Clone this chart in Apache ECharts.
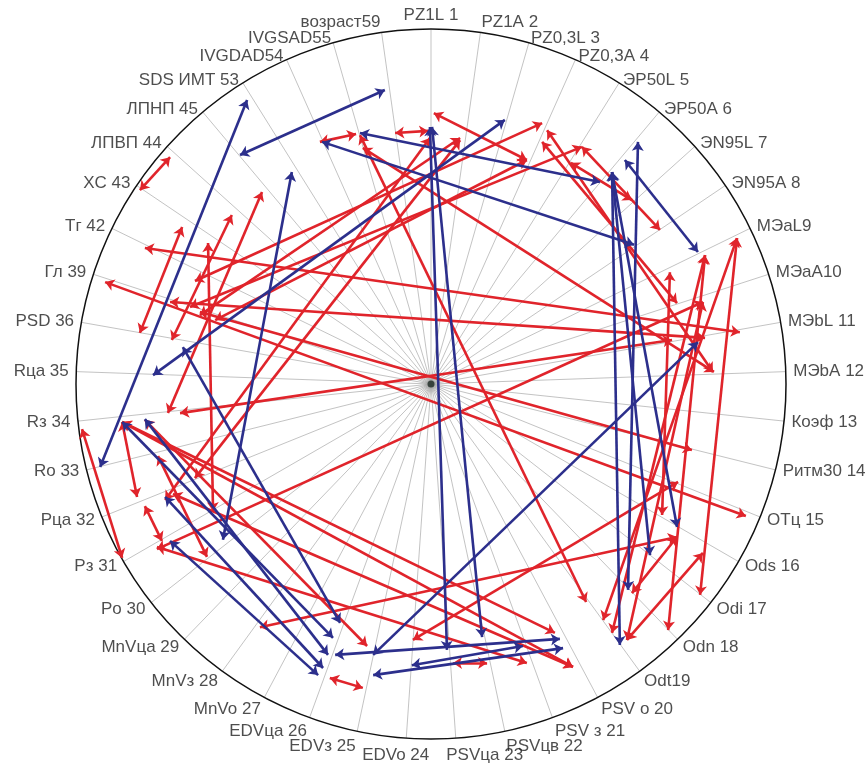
<!DOCTYPE html>
<html><head><meta charset="utf-8">
<script src="https://cdn.jsdelivr.net/npm/echarts@6/dist/echarts.min.js"></script>
<style>html,body{margin:0;padding:0;background:#fff}#c{width:867px;height:769px}</style>
</head><body><div id="c"></div>
<script>
const categories = ['PZ1L 1','PZ1A 2','PZ0,3L 3','PZ0,3A 4','ЭP50L 5','ЭP50A 6','ЭN95L 7','ЭN95A 8','MЭaL9','MЭaA10','MЭbL 11','MЭbA 12','Коэф 13','Ритм30 14','OTц 15','Ods 16','Odi 17','Odn 18','Odt19','PSV o 20','PSV з 21','PSVцв 22','PSVца 23','EDVo 24','EDVз 25','EDVца 26','MnVo 27','MnVз 28','MnVца 29','Po 30','Pз 31','Pца 32','Ro 33','Rз 34','Rца 35','PSD 36','Гл 39','Tг 42','XC 43','ЛПВП 44','ЛПНП 45','SDS ИМТ 53','IVGDAD54','IVGSAD55','возраст59'];

// each link: [x1, y1, x2, y2] in percent of circle radius (centre = 0,0)
const redLinks = [
 [-82.0,54.6,-73.5,63.9],
 [-31.3,68.2,-21.1,70.4],
 [-10.1,70.7,-0.8,71.3],
 [-20.0,70.1,43.7,-61.4],
 [-80.6,38.3,87.0,14.6],
 [-91.8,28.7,88.7,-37.2],
 [-65.1,20.3,73.5,-18.6],
 [-73.5,23.1,77.2,13.0],
 [-70.1,44.2,-82.0,14.4],
 [-62.8,39.7,-61.4,-35.8],
 [-56.1,47.6,-73.0,12.4],
 [-47.6,54.1,-74.1,-8.2],
 [-98.3,-12.7,-87.0,-49.0],
 [-87.0,-10.7,-82.8,-31.8],
 [-80.6,-34.4,-75.8,-44.2],
 [-76.9,-20.3,-63.1,-48.7],
 [-87.0,-10.7,40.0,-79.7],
 [-87.0,-10.7,34.9,-70.1],
 [-72.7,-31.0,40.0,-79.7],
 [-77.2,-45.9,27.0,-78.6],
 [0.8,76.3,27.0,63.1],
 [31.3,73.5,-66.5,29.0],
 [8.2,69.3,-65.1,19.4],
 [42.5,66.8,64.5,43.4],
 [39.4,62.3,56.6,51.8],
 [86.2,41.1,75.8,-59.4],
 [86.2,41.1,48.5,-66.5],
 [77.2,36.3,51.0,-70.1],
 [77.2,36.3,66.8,-69.3],
 [67.3,31.5,65.1,-36.9],
 [76.6,23.1,55.2,-72.1],
 [76.6,23.1,-77.2,-46.5],
 [-70.7,-8.2,67.9,12.4],
 [8.2,68.7,-66.5,-26.5],
 [32.7,71.5,79.4,3.4],
 [31.3,68.2,69.3,22.8],
 [55.2,-72.1,76.6,-47.6],
 [56.6,-58.9,69.3,-43.1],
 [-80.6,-10.1,-18.0,-73.8],
 [-5.1,-72.1,69.6,-27.6],
 [-48.2,-68.5,69.3,-43.1],
 [-19.2,66.5,79.7,3.4],
 [-0.3,69.3,-74.9,-32.7],
 [6.2,-78.6,15.8,-78.6],
 [-28.5,-82.8,-19.2,-85.6],
 [42.5,66.8,-67.9,21.7],
 [27.0,63.1,-60.8,18.0]
];

const blueLinks = [
 [-13.0,82.8,-53.8,64.5],
 [-51.8,80.0,-93.2,-23.4],
 [-39.2,59.7,-58.6,-43.9],
 [20.8,74.4,-78.3,2.5],
 [-69.9,10.4,-25.6,-67.3],
 [-87.0,-10.7,-27.6,-71.5],
 [-80.6,-9.9,-29.0,-76.3],
 [-74.9,-31.8,-30.4,-80.0],
 [-73.5,-44.2,-31.8,-82.0],
 [-27.0,-76.3,36.3,-71.8],
 [-16.3,-82.0,37.2,-74.4],
 [-5.4,-79.2,25.9,-73.8],
 [-16.3,-76.3,75.2,11.8],
 [-0.3,72.4,4.5,-74.9],
 [0.3,72.4,14.4,-71.3],
 [54.6,63.1,75.2,37.2],
 [58.3,68.2,55.5,-58.0],
 [-30.7,68.2,57.2,39.2],
 [-20.0,70.7,47.6,56.9],
 [51.0,59.7,53.2,-73.5],
 [51.0,59.7,61.7,-48.2],
 [51.0,59.7,69.3,-40.3]
];

const RED = '#e0242b';
const BLUE = '#2c2f8c';
const N = categories.length;

function toLines(arr){
  return arr.map(l => ({coords: [[l[0], l[1]], [l[2], l[3]]]}));
}

// category labels placed just outside the circle, horizontal, aligned by side
const labelData = categories.map((name, i) => {
  const a = i / N * 2 * Math.PI;
  const s = Math.sin(a), c = Math.cos(a);
  const align = s > 0.05 ? 'left' : (s < -0.1 ? 'right' : 'center');
  let dx = 0;
  let dy = c > 0 ? (-11 * Math.pow(c, 40) + 5 * c * c) : 8 * Math.pow(-c, 3);
  if (c < -0.99) { dx = -10; dy += 2; }
  return {
    value: [102.1, i],
    name: name,
    label: {align: align, verticalAlign: 'middle', offset: [dx, dy]}
  };
});

const chart = echarts.init(document.getElementById('c'), null, {renderer: 'canvas'});
chart.setOption({
  backgroundColor: '#ffffff',
  animation: false,
  polar: {center: [431, 384], radius: 355},
  angleAxis: {
    type: 'value', min: 0, max: N, interval: 1,
    startAngle: 90, clockwise: true,
    axisLine: {show: true, lineStyle: {color: '#111', width: 1.5}},
    axisTick: {show: false},
    axisLabel: {show: false},
    splitLine: {show: true, lineStyle: {color: '#b4b4b4', width: 0.8}}
  },
  radiusAxis: {type: 'value', min: 0, max: 100, show: false},
  grid: {left: 76, top: 29, width: 710, height: 710},
  xAxis: {type: 'value', min: -100, max: 100, show: false},
  yAxis: {type: 'value', min: -100, max: 100, show: false},
  series: [
    {
      type: 'scatter', coordinateSystem: 'polar', clip: false, silent: true,
      symbolSize: 0, z: 5,
      label: {
        show: true, position: [0, 0], formatter: p => p.name,
        fontSize: 17, color: '#222',
        fontFamily: 'Liberation Sans, Arial, sans-serif'
      },
      data: labelData
    },
    {
      type: 'scatter', coordinateSystem: 'cartesian2d', data: [[0, 0]],
      symbolSize: 7, silent: true, z: 1,
      itemStyle: {color: '#1e2a24', shadowBlur: 8, shadowColor: 'rgba(0,0,0,0.6)'}
    },
    {
      type: 'lines', coordinateSystem: 'cartesian2d', z: 3,
      symbol: ['arrow', 'arrow'], symbolSize: 9,
      lineStyle: {color: RED, width: 2.6, opacity: 1, curveness: 0},
      data: toLines(redLinks)
    },
    {
      type: 'lines', coordinateSystem: 'cartesian2d', z: 4,
      symbol: ['arrow', 'arrow'], symbolSize: 9,
      lineStyle: {color: BLUE, width: 2.6, opacity: 1, curveness: 0},
      data: toLines(blueLinks)
    }
  ]
});
</script></body></html>
